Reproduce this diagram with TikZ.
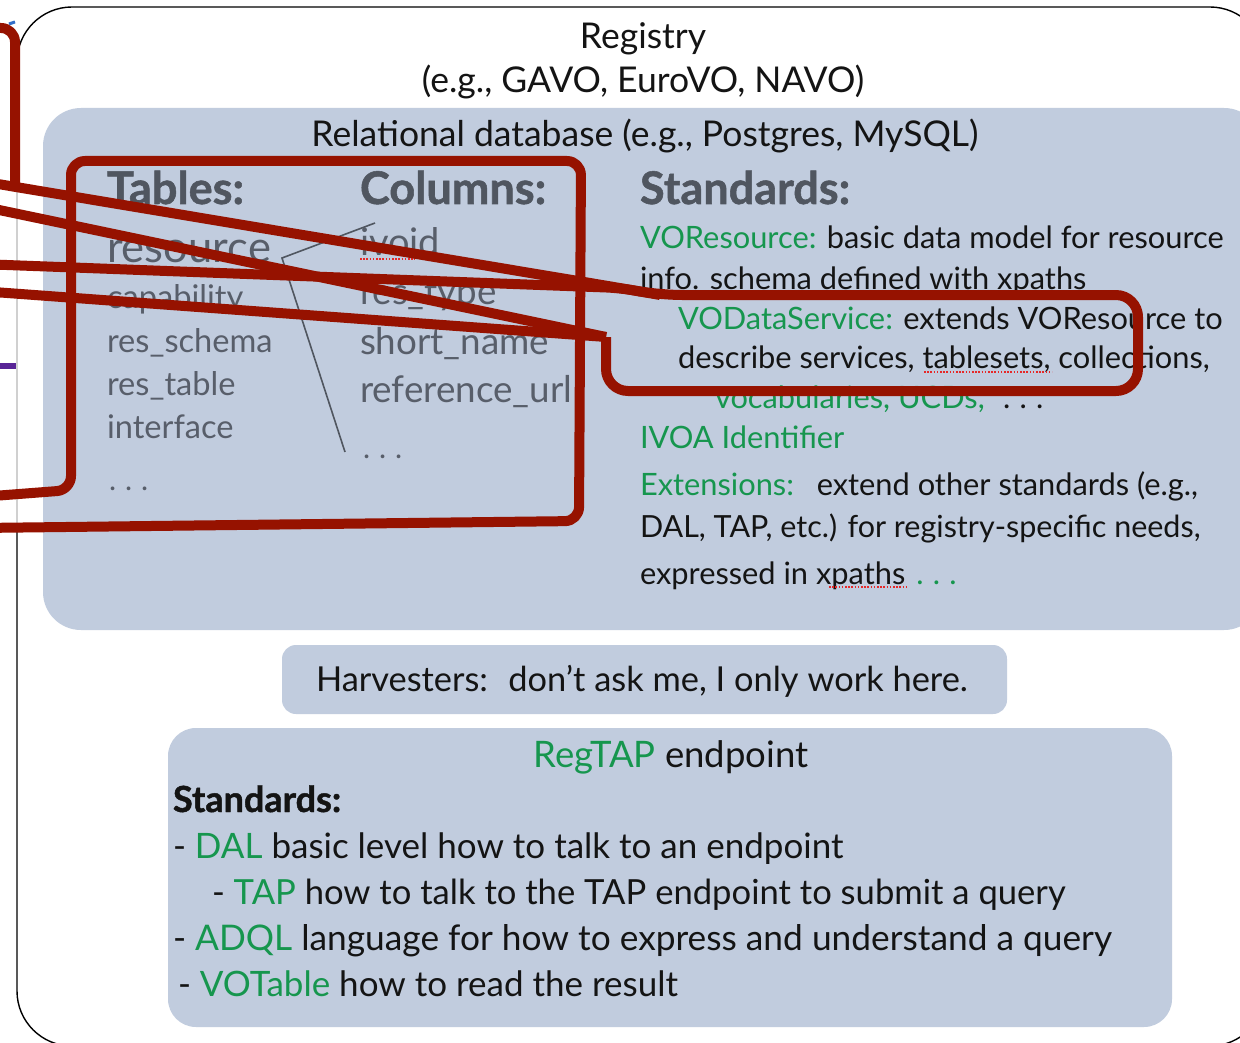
\documentclass[tikz,border=0pt]{standalone}
\usepackage{fontspec}
\setmainfont{Lato}
\definecolor{ink}{RGB}{20,20,20}
\definecolor{grn}{RGB}{22,150,78}
\definecolor{hdgray}{RGB}{80,86,96}
\definecolor{tgray}{RGB}{88,94,106}
\definecolor{boxblue}{RGB}{193,204,222}
\definecolor{annot}{RGB}{150,18,0}
\definecolor{spellred}{RGB}{230,40,40}
\definecolor{edgegray}{RGB}{208,208,208}
\definecolor{purp}{RGB}{88,36,150}
\definecolor{tinyblue}{RGB}{50,110,200}
\newcommand\fsz[1]{\fontsize{#1}{#1}\selectfont}
\newcommand\dotsx{.\hspace{0.3em}.\hspace{0.3em}.}
\newcommand\heavyfont{\bfseries\addfontfeatures{FakeBold=1.2}}
\begin{document}
\begin{tikzpicture}[x=1pt,y=-1pt,
  txt/.style={inner sep=0pt, outer sep=0pt, anchor=base west, text=ink},
  ctxt/.style={txt, anchor=base},
  heavy/.style={txt, text=hdgray, font=\fsz{45}\heavyfont},
  bluebox/.style={fill=boxblue, draw=none},
  redline/.style={draw=annot, line width=10pt, rounded corners=14pt, line join=round},
  spell/.style={draw=spellred, line width=1.6pt, dash pattern=on 1.6pt off 1.6pt},
  thin/.style={draw=hdgray, line width=1.6pt}]
\useasboundingbox (0,0) rectangle (1240,1043);
\clip (0,0) rectangle (1240,1043);
\fill[white] (0,0) rectangle (1240,1043);
% outer registry box
\draw[black, line width=1.4pt, rounded corners=55pt] (17,7) rectangle (1265,1046);
\draw[edgegray, line width=2pt] (17,48) -- (17,527);
\draw[purp, line width=6pt] (0,366) -- (16,366);
\draw[tinyblue, line width=3pt] (9,24) -- (15,22);
% blue boxes
\fill[bluebox, rounded corners=38pt] (43,108) rectangle (1262,630);
\fill[bluebox, rounded corners=14pt] (282,645) rectangle (1007,714);
\fill[bluebox, rounded corners=28pt] (168,728) rectangle (1172,1027);
% headings
\node[ctxt] (reg) at (643,49) {\fsz{35.5}Registry};
\node[ctxt] (regeg) at (643,93) {\fsz{35.5}(e.g., GAVO, EuroVO, NAVO)};
\node[ctxt] (rdb) at (645,147) {\fsz{35.5}Relational database (e.g., Postgres, MySQL)};
\node[heavy] (tables) at (107,204) {Tables:};
\node[heavy] (columns) at (360,204) {Columns:};
\node[heavy] (std) at (640,204) {Standards:};
% tables
\node[txt, text=tgray] (tres) at (107,262) {\fsz{43.5}resource};
\node[txt, text=tgray] (tcap) at (107,308) {\fsz{32.6}capability};
\node[txt, text=tgray] (tsch) at (107,352) {\fsz{32.6}res\_schema};
\node[txt, text=tgray] (ttab) at (107,395) {\fsz{32.6}res\_table};
\node[txt, text=tgray] (tint) at (107,438) {\fsz{32.6}interface};
\node[txt, text=tgray] (tdot) at (109,490) {\fsz{30}\dotsx};
% columns
\node[txt, text=tgray] (civ) at (360,256) {\fsz{38}ivoid};
\node[txt, text=tgray] (crt) at (360,305) {\fsz{36.7}res\_type};
\node[txt, text=tgray] (csn) at (360,354) {\fsz{36.8}short\_name};
\node[txt, text=tgray] (cru) at (360,402) {\fsz{36.8}reference\_url};
\node[txt, text=tgray] (cdot) at (363,458) {\fsz{30}\dotsx};
\draw[thin] (375,223) -- (282,258) -- (345,452);
\draw[spell] (360,259) -- (415,259);
% standards
\node[txt] (s1) at (640,249) {\fsz{30.8}\textcolor{grn}{VOResource:} basic data model for resource};
\node[txt] (s2) at (640,289) {\fsz{30.8}info. schema defined with xpaths};
\node[txt] (s3) at (678,329) {\fsz{30.8}\textcolor{grn}{VODataService:} extends VOResource to};
\node[txt] (s4) at (678,368) {\fsz{30.8}describe services, tablesets, collections,};
\node[txt] (s5) at (715,408) {\fsz{30.8}\textcolor{grn}{vocabularies, UCDs,}\hspace{0.6em}\dotsx};
\node[txt, text=grn] (s6) at (640,448) {\fsz{30.8}IVOA Identifier};
\node[txt] (s7) at (640,495) {\fsz{30.8}\textcolor{grn}{Extensions:}\hspace{0.4em} extend other standards (e.g.,};
\node[txt] (s8) at (640,537) {\fsz{30.5}DAL, TAP, etc.) for registry-specific needs,};
\node[txt] (s9) at (640,584) {\fsz{30.8}expressed in xpaths\hspace{0.1em} \textcolor{grn}{\dotsx}};
\draw[spell] (924,372) -- (1052,372);
\draw[spell] (829,587) -- (908,587);
% harvesters
\node[txt] (harv) at (316,691) {\fsz{34.4}Harvesters:\hspace{0.25em} don’t ask me, I only work here.};
% RegTAP
\node[ctxt] (rt) at (671,767) {\fsz{36.5}\textcolor{grn}{RegTAP} endpoint};
\node[txt] (rts) at (173,812) {\fsz{36}\heavyfont Standards:};
\node[txt] (r1) at (173,858) {\fsz{35}- \textcolor{grn}{DAL} basic level how to talk to an endpoint};
\node[txt] (r2) at (212,904) {\fsz{34.6}- \textcolor{grn}{TAP} how to talk to the TAP endpoint to submit a query};
\node[txt] (r3) at (173,950) {\fsz{35.3}- \textcolor{grn}{ADQL} language for how to express and understand a query};
\node[txt] (r4) at (178,996) {\fsz{35}- \textcolor{grn}{VOTable} how to read the result};
% red annotation strokes
\coordinate (lb0) at (-20,28);
\coordinate (lb1) at (15,28);
\coordinate (lb2) at (15,184);
\draw[redline] (lb0) -- (lb1) -- (lb2);
\coordinate (a0) at (-20,181);
\coordinate (a1) at (620,288);
\coordinate (vtl) at (660,295);
\coordinate (vtr) at (1138,295);
\coordinate (vbr) at (1138,391);
\coordinate (vbl) at (606,391);
\coordinate (vl) at (606,337);
\draw[redline, rounded corners=22pt] (a0) -- (a1) -- (vtl) -- (vtr) -- (vbr) -- (vbl) -- (vl);
\coordinate (b0) at (-20,206);
\draw[redline] (b0) -- (vl);
\coordinate (c0) at (-20,264);
\draw[redline] (c0) -- (a1) -- (vtl);
\coordinate (d0) at (-20,291);
\draw[redline] (d0) -- (vl);
\coordinate (e0) at (-20,497);
\coordinate (e1) at (71,490);
\coordinate (e2) at (71,161);
\coordinate (e3) at (581,161);
\coordinate (e4) at (579,521);
\coordinate (e5) at (-20,528);
\draw[redline] (e0) -- (e1) -- (e2) -- (e3) -- (e4) -- (e5);
\end{tikzpicture}
\end{document}
